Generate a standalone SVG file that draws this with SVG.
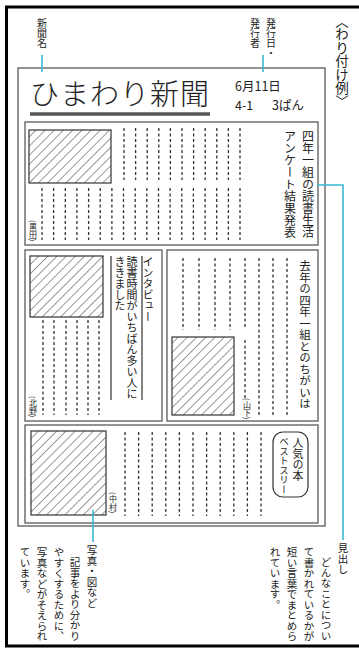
<svg xmlns="http://www.w3.org/2000/svg" width="359" height="650" viewBox="0 0 359 650">
<style>
.v{writing-mode:vertical-rl;font-family:"Noto Sans CJK JP","Noto Sans",sans-serif;fill:#222}
.h{font-family:"Noto Sans CJK JP","Noto Sans",sans-serif;fill:#222}
.frame{fill:none;stroke:#666;stroke-width:1.4}
.dash{stroke:#333;stroke-width:1.3;stroke-dasharray:3 2.5;fill:none}
.hatch{fill:url(#hatch);stroke:#333;stroke-width:1.2}
.cy{stroke:#3ab7d1;stroke-width:1.6;fill:none}
</style>
<defs>
<pattern id="hatch" patternUnits="userSpaceOnUse" width="6.5" height="6.5" patternTransform="rotate(45)">
<line x1="0" y1="0" x2="0" y2="6.5" stroke="#333" stroke-width="1"/>
</pattern>
</defs>
<rect width="359" height="650" fill="#fff"/>
<path d="M359,7 H6.5 V646 H359" fill="none" stroke="#000" stroke-width="3"/>

<g id="labels">
<text class="v" x="42" y="18" font-size="10">新聞名</text>
<text class="v" x="271" y="18" font-size="10">発行日・</text>
<text class="v" x="255" y="18" font-size="10">発行者</text>
<text class="v" x="342" y="14" font-size="13.5">〈わり付け例〉</text>
</g>

<g id="page">
<rect class="frame" x="18" y="68" width="307" height="458"/>
<text class="h" x="30" y="105" font-size="29" font-weight="300" letter-spacing="1">ひまわり新聞</text>
<line x1="30" y1="114" x2="210" y2="114" stroke="#555" stroke-width="3.5"/>
<text class="h" x="235" y="91" font-size="12.5">6月11日</text>
<text class="h" x="235" y="110" font-size="12.5">4-1</text>
<text class="h" x="272" y="110" font-size="12.5">3ぱん</text>
</g>

<g id="article1">
<rect class="frame" x="25" y="122" width="293" height="123"/>
<rect class="hatch" x="29" y="130" width="82" height="53"/>
<path class="dash" d="M124,128V180M135.6,128V180M147.2,128V180M158.8,128V180M170.4,128V180M182,128V180M193.6,128V180M205.2,128V180M216.8,128V180M228.4,128V180M240,128V180"/>
<path class="dash" d="M42,188V240M53.6,188V240M65.3,188V240M76.9,188V240M88.6,188V240M100.2,188V240M111.9,188V240M123.5,188V240M135.2,188V240M146.8,188V240M158.5,188V240M170.1,188V240M181.8,188V240M193.4,188V240M205.1,188V240M216.7,188V240M228.4,188V240M240,188V240"/>
<text class="v" x="33" y="220" font-size="8">(黒田)</text>
<text class="v" x="308" y="130" font-size="12">四年一組の読書生活</text>
<text class="v" x="290" y="130" font-size="12">アンケート結果発表</text>
</g>

<g id="article2">
<rect class="frame" x="25" y="250" width="137" height="171"/>
<rect class="hatch" x="30" y="256" width="73" height="61"/>
<path class="dash" d="M43,320V415M54,320V415M66,320V415M77,320V415M88,320V415M99,320V415"/>
<line x1="111" y1="256" x2="111" y2="400" stroke="#333" stroke-width="1.2"/>
<line x1="142" y1="256" x2="142" y2="400" stroke="#333" stroke-width="1.2"/>
<text class="v" x="148" y="256" font-size="11">インタビュー</text>
<text class="v" x="132" y="256" font-size="11">読書時間がいちばん多い人に</text>
<text class="v" x="120" y="256" font-size="11">ききました</text>
<text class="v" x="33" y="396" font-size="8">(北野)</text>
</g>

<g id="article3">
<rect class="frame" x="167" y="250" width="151" height="171"/>
<path class="dash" d="M183,258V330M199,258V330M215,258V330M230,258V330M245,258V328M245,340V398M259,258V415M273,258V415M287,258V415"/>
<rect class="hatch" x="172" y="337" width="62" height="78"/>
<text class="v" x="247" y="398" font-size="8">(山下)</text>
<text class="v" x="305" y="260" font-size="11.5">去年の四年一組とのちがいは</text>
</g>

<g id="article4">
<rect class="frame" x="25" y="425" width="293" height="98"/>
<rect class="hatch" x="31" y="431" width="75" height="84"/>
<text class="v" x="113" y="492" font-size="8">(中村)</text>
<path class="dash" d="M125,432V516M138.6,432V516M152.2,432V516M165.8,432V516M179.4,432V516M193,432V516M206.6,432V516M220.2,432V516M233.8,432V516M247.4,432V516M261,432V516"/>
<rect x="273" y="432" width="35" height="65" rx="10" fill="none" stroke="#333" stroke-width="1.2"/>
<text class="v" x="298" y="437" font-size="11">人気の本</text>
<text class="v" x="284" y="437" font-size="9.5">ベストスリー</text>
</g>

<g id="connectors">
<line class="cy" x1="42" y1="55" x2="42" y2="72"/>
<line class="cy" x1="263" y1="55" x2="263" y2="72"/>
<path class="cy" d="M317,185H343V540"/>
<line class="cy" x1="93" y1="510" x2="93" y2="542"/>
</g>

<g id="notes">
<text class="v" x="343" y="543" font-size="10.5">見出し</text>
<text class="v" x="326" y="557" font-size="10.5">どんなことについ</text>
<text class="v" x="309" y="547" font-size="10.5">て書かれているかが</text>
<text class="v" x="292" y="547" font-size="10.5">短い言葉でまとめら</text>
<text class="v" x="275" y="547" font-size="10.5">れています。</text>
<text class="v" x="92" y="545" font-size="10.5">写真・図など</text>
<text class="v" x="75" y="557" font-size="10.5">記事をより分かり</text>
<text class="v" x="59" y="547" font-size="10.5">やすくするために、</text>
<text class="v" x="42" y="547" font-size="10.5">写真などがそえられ</text>
<text class="v" x="25" y="547" font-size="10.5">ています。</text>
</g>
</svg>
